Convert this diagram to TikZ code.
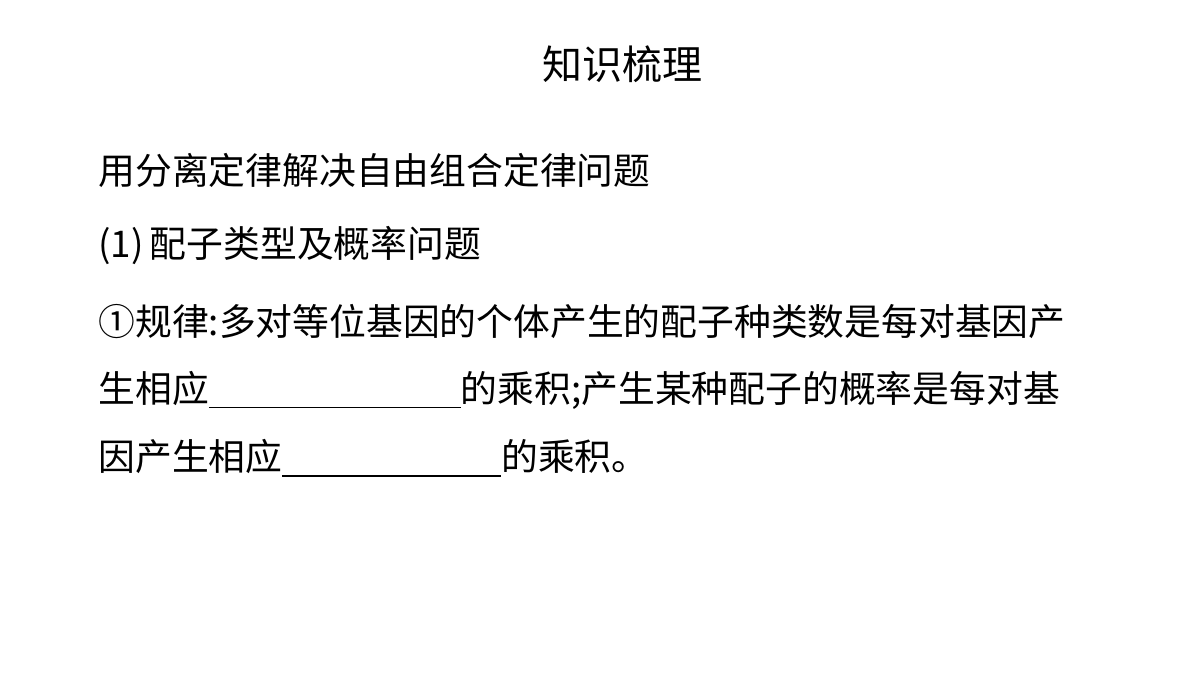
\documentclass[tikz,border=0pt]{standalone}
\usepackage{fontspec}
\setmainfont{Noto Sans CJK SC}
\begin{document}
\begin{tikzpicture}[x=0.5pt,y=-0.5pt,
  txt/.style={anchor=west,inner sep=0pt,font=\fontsize{18.4pt}{22pt}\selectfont}]
\useasboundingbox (0,0) rectangle (1200,675);
\node[inner sep=0pt,font=\fontsize{20pt}{24pt}\selectfont] (title) at (622,64) {知识梳理};
\node[txt] (l1) at (98,170) {用分离定律解决自由组合定律问题};
\node[txt] (l2) at (98,246) {(1)\,配子类型及概率问题};
\node[txt] (l3) at (98,322) {①规律:多对等位基因的个体产生的配子种类数是每对基因产};
\node[txt] (l4) at (98,390) {生相应\rule[-3pt]{126pt}{0.6pt}的乘积;产生某种配子的概率是每对基};
\node[txt] (l5) at (98,458) {因产生相应\rule[-3pt]{109.5pt}{0.6pt}的乘积。};
\end{tikzpicture}
\end{document}
